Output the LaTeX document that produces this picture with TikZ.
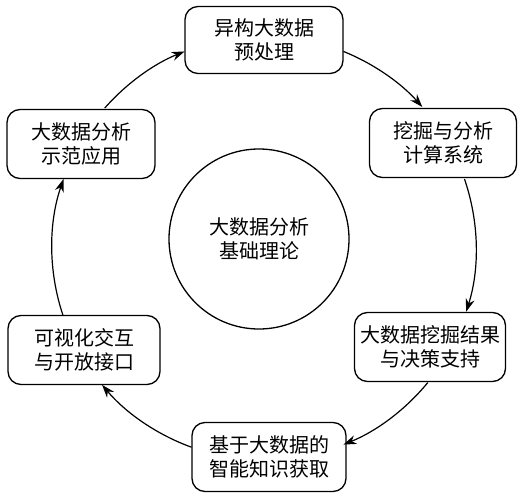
\documentclass[tikz,border=0pt]{standalone}
\usepackage{fontspec}
\newfontfamily\cjk{Noto Sans CJK SC}
\usetikzlibrary{arrows.meta,calc}
\tikzset{
  box/.style={draw=black, line width=1.3pt, rounded corners=13pt, align=center,
    font=\cjk\fontsize{20}{24}\selectfont, inner sep=0pt},
  core/.style={draw=black, line width=1.3pt, circle, align=center,
    font=\cjk\fontsize{20}{24}\selectfont, inner sep=0pt, minimum size=180pt},
  arr/.style={line width=1.2pt, -{Stealth[length=13pt,width=9pt]}}
}
\begin{document}
\begin{tikzpicture}[x=1pt,y=1pt]
\useasboundingbox (0,0) rectangle (524,496);
\node[core] (core) at (259,257) {大数据分析\\基础理论};
\node[box, minimum width=158pt, minimum height=67pt] (top) at (264,456) {异构大数据\\预处理};
\node[box, minimum width=147pt, minimum height=69pt] (ru) at (443,353) {挖掘与分析\\计算系统};
\node[box, minimum width=151pt, minimum height=69pt] (rl) at (430,149) {大数据挖掘结果\\与决策支持};
\node[box, minimum width=154pt, minimum height=69pt] (bot) at (269,39) {基于大数据的\\智能知识获取};
\node[box, minimum width=152pt, minimum height=69pt] (ll) at (84,146) {可视化交互\\与开放接口};
\node[box, minimum width=148pt, minimum height=69pt] (lu) at (81,352) {大数据分析\\示范应用};
\coordinate (C) at (264,248);
\def\R{212}
\coordinate (a1) at ($(C)+(68:\R)$);
\coordinate (a2) at ($(C)+(19:\R)$);
\coordinate (a3) at ($(C)+(-39.4:\R)$);
\coordinate (a4) at ($(C)+(-110:\R)$);
\coordinate (a5) at ($(C)+(-161.6:\R)$);
\coordinate (a6) at ($(C)+(138.7:\R)$);
\draw[arr] (a1) arc[start angle=68, end angle=41.7, radius=\R];
\draw[arr] (a2) arc[start angle=19, end angle=-17.5, radius=\R];
\draw[arr] (a3) arc[start angle=-39.4, end angle=-68, radius=\R];
\draw[arr] (a4) arc[start angle=-110, end angle=-139.8, radius=\R];
\draw[arr] (a5) arc[start angle=-161.6, end angle=-199, radius=\R];
\draw[arr] (a6) arc[start angle=138.7, end angle=112, radius=\R];
\end{tikzpicture}
\end{document}
